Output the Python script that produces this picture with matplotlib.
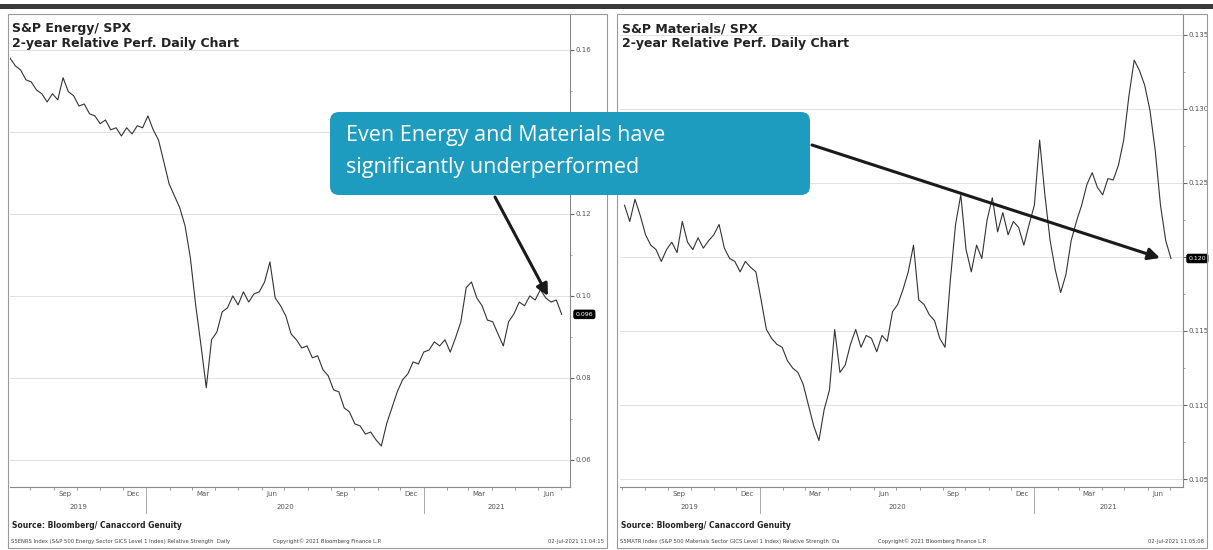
import numpy as np
import pandas as pd
import matplotlib
matplotlib.use("Agg")
import matplotlib.pyplot as plt
import matplotlib.dates as mdates
from matplotlib.patches import Rectangle, FancyBboxPatch, FancyArrowPatch
from matplotlib.ticker import FixedLocator

# weekly readings of the two relative-strength lines
energy_dates = pd.date_range("2019-07-05", periods=105, freq="W-FRI")
energy_vals = [
    0.1580, 0.1561, 0.1551, 0.1527, 0.1522, 0.1502, 0.1493, 0.1473, 0.1493, 0.1478,
    0.1532, 0.1498, 0.1488, 0.1463, 0.1468, 0.1444, 0.1439, 0.1420, 0.1429, 0.1405,
    0.1410, 0.1390, 0.1410, 0.1395, 0.1415, 0.1410, 0.1439, 0.1405, 0.1380, 0.1327,
    0.1273, 0.1244, 0.1215, 0.1171, 0.1093, 0.0978, 0.0880, 0.0776, 0.0893, 0.0912,
    0.0961, 0.0971, 0.1000, 0.0978, 0.1010, 0.0985, 0.1005, 0.1010, 0.1034, 0.1083,
    0.0995, 0.0976, 0.0951, 0.0907, 0.0893, 0.0873, 0.0878, 0.0849, 0.0854, 0.0820,
    0.0805, 0.0771, 0.0766, 0.0727, 0.0717, 0.0688, 0.0683, 0.0663, 0.0668, 0.0649,
    0.0634, 0.0688, 0.0727, 0.0766, 0.0795, 0.0810, 0.0839, 0.0834, 0.0863, 0.0868,
    0.0888, 0.0878, 0.0893, 0.0863, 0.0898, 0.0937, 0.1020, 0.1034, 0.0995, 0.0976,
    0.0941, 0.0937, 0.0907, 0.0878, 0.0937, 0.0956, 0.0985, 0.0976, 0.1000, 0.0990,
    0.1015, 0.0995, 0.0985, 0.0990, 0.0955,
]

materials_dates = pd.date_range("2019-07-05", periods=105, freq="W-FRI")
materials_vals = [
    0.1235, 0.1224, 0.1239, 0.1228, 0.1215, 0.1208, 0.1205, 0.1197, 0.1205, 0.1210,
    0.1203, 0.1224, 0.1210, 0.1205, 0.1213, 0.1206, 0.1211, 0.1215, 0.1222, 0.1206,
    0.1199, 0.1197, 0.1190, 0.1197, 0.1193, 0.1190, 0.1171, 0.1151, 0.1145, 0.1141,
    0.1139, 0.1130, 0.1125, 0.1122, 0.1114, 0.1100, 0.1086, 0.1076, 0.1097, 0.1110,
    0.1151, 0.1122, 0.1127, 0.1141, 0.1151, 0.1139, 0.1147, 0.1145, 0.1136, 0.1147,
    0.1143, 0.1163, 0.1168, 0.1178, 0.1190, 0.1208, 0.1171, 0.1168, 0.1161, 0.1157,
    0.1145, 0.1139, 0.1184, 0.1222, 0.1242, 0.1205, 0.1190, 0.1208, 0.1199, 0.1225,
    0.1240, 0.1217, 0.1230, 0.1215, 0.1224, 0.1220, 0.1208, 0.1222, 0.1235, 0.1279,
    0.1242, 0.1211, 0.1191, 0.1176, 0.1188, 0.1211, 0.1224, 0.1235, 0.1249, 0.1257,
    0.1247, 0.1242, 0.1253, 0.1252, 0.1262, 0.1279, 0.1309, 0.1333, 0.1326, 0.1316,
    0.1299, 0.1272, 0.1235, 0.1211, 0.1199,
]

energy_yticks = [0.06, 0.08, 0.10, 0.12, 0.14, 0.16]
materials_yticks = [0.105, 0.110, 0.115, 0.120, 0.125, 0.130, 0.135]
# tick labels that sit under the call-out box in the original
energy_hidden = [0.14]

callout_lines = ["Even Energy and Materials have", "significantly underperformed"]

W, H = 1213, 550

def fx(x):
    return x / W

def fy(y):
    return 1 - y / H

fig = plt.figure(figsize=(W / 100, H / 100), dpi=100)
fig.patch.set_facecolor("white")

# dark bar across the top
fig.add_artist(Rectangle((0, fy(9)), 1, 5 / H, transform=fig.transFigure,
                         color="#3a3a3a", lw=0))


def draw_panel(x0, x1, frame_l, frame_r, dates, vals, xlim, ylim, yticks, minor, fmt,
               tagfmt, hidden, title1, title2, note, stamp):
    # outer frame of the panel
    fig.add_artist(Rectangle((fx(frame_l), fy(548)), fx(frame_r - frame_l), 534 / H,
                             transform=fig.transFigure, fill=False,
                             ec="#9a9a9a", lw=0.8))
    ax = fig.add_axes([fx(x0), fy(487), fx(x1 - x0), (487 - 15) / H])
    ax.plot(dates, vals, color="#333333", lw=0.8)
    ax.set_xlim(pd.Timestamp(xlim[0]), pd.Timestamp(xlim[1]))
    ax.set_ylim(*ylim)

    for s in ["top", "left"]:
        ax.spines[s].set_visible(False)
    for s in ["right", "bottom"]:
        ax.spines[s].set_color("#8a8a8a")
        ax.spines[s].set_linewidth(0.8)

    # y axis on the right, Bloomberg style; the tag hides the label it sits on
    step = yticks[1] - yticks[0]
    labels = []
    for t in yticks:
        if abs(t - vals[-1]) < step * 0.2 or any(abs(t - h) < 1e-9 for h in hidden):
            labels.append("")
        else:
            labels.append(fmt % t)
    ax.yaxis.tick_right()
    ax.set_yticks(yticks)
    ax.set_yticklabels(labels)
    ax.yaxis.set_minor_locator(FixedLocator(minor))
    ax.tick_params(axis="y", which="major", length=3, color="#666666",
                   labelsize=5, labelcolor="#555555", pad=1)
    ax.tick_params(axis="y", which="minor", length=1.5, color="#999999")
    ax.grid(axis="y", which="major", color="#dddddd", lw=0.6)

    # month ticks and labels
    ax.xaxis.set_minor_locator(mdates.MonthLocator())
    ax.xaxis.set_major_locator(mdates.MonthLocator(bymonth=[3, 6, 9, 12], bymonthday=15))
    ax.xaxis.set_major_formatter(mdates.DateFormatter("%b"))
    ax.tick_params(axis="x", which="major", length=0, labelsize=5,
                   labelcolor="#555555", pad=3)
    ax.tick_params(axis="x", which="minor", length=2, color="#888888")

    # year labels and separators
    lo, hi = mdates.date2num(pd.Timestamp(xlim[0])), mdates.date2num(pd.Timestamp(xlim[1]))
    trans = ax.get_xaxis_transform()
    for yr in [2019, 2020, 2021]:
        a = max(lo, mdates.date2num(pd.Timestamp(f"{yr}-01-01")))
        b = min(hi, mdates.date2num(pd.Timestamp(f"{yr + 1}-01-01")))
        ax.text((a + b) / 2, -0.043, str(yr), transform=trans, ha="center",
                va="center", fontsize=5, color="#555555")
        if yr > 2019:
            sep = mdates.date2num(pd.Timestamp(f"{yr}-01-01"))
            ax.plot([sep, sep], [0, -0.055], transform=trans, color="#aaaaaa",
                    lw=0.7, clip_on=False)

    # current value tag
    ax.annotate(tagfmt % vals[-1], xy=(1, vals[-1]), xycoords=("axes fraction", "data"),
                xytext=(4, 0), textcoords="offset points", va="center", ha="left",
                fontsize=4.5, color="white",
                bbox=dict(boxstyle="round,pad=0.25", fc="black", ec="black"))

    ax.text(0.004, 0.985, title1 + "\n" + title2, transform=ax.transAxes,
            ha="left", va="top", fontsize=9, fontweight="bold", color="#222222",
            linespacing=1.15)

    fig.text(fx(frame_l + 4), fy(525), "Source: Bloomberg/ Canaccord Genuity",
             fontsize=5.5, fontweight="bold", color="#222222", va="center")
    fig.text(fx(frame_l + 3), fy(541), note, fontsize=3.8, color="#444444", va="center")
    fig.text(fx((frame_l + frame_r) / 2 + 20), fy(541),
             "Copyright\u00a9 2021 Bloomberg Finance L.P.", fontsize=3.8,
             color="#444444", va="center", ha="center")
    fig.text(fx(frame_r - 3), fy(541), stamp, fontsize=3.8, color="#444444",
             va="center", ha="right")
    return ax


ax1 = draw_panel(10, 570, 8, 607, energy_dates, energy_vals,
                 ("2019-07-05", "2021-07-13"), (0.0534, 0.1685), energy_yticks,
                 [0.07, 0.09, 0.11, 0.13, 0.15], "%.2f", "%.3f", energy_hidden,
                 "S&P Energy/ SPX", "2-year Relative Perf. Daily Chart",
                 "S5ENRS Index (S&P 500 Energy Sector GICS Level 1 Index) Relative Strength  Daily",
                 "02-Jul-2021 11:04:15")

ax2 = draw_panel(620, 1183, 617, 1207, materials_dates, materials_vals,
                 ("2019-06-29", "2021-07-18"), (0.10446, 0.13635), materials_yticks,
                 [0.1075, 0.1125, 0.1175, 0.1225, 0.1275, 0.1325], "%.3f", "%.3f", [],
                 "S&P Materials/ SPX", "2-year Relative Perf. Daily Chart",
                 "S5MATR Index (S&P 500 Materials Sector GICS Level 1 Index) Relative Strength  Da",
                 "02-Jul-2021 11:05:08")

# overlay in pixel units for the call-out and the arrows
ov = fig.add_axes([0, 0, 1, 1], zorder=10)
ov.set_xlim(0, W)
ov.set_ylim(H, 0)
ov.axis("off")
ov.patch.set_alpha(0)

ov.add_patch(FancyBboxPatch((330, 112), 480, 83,
                            boxstyle="round,pad=0,rounding_size=9",
                            fc="#1e9cc0", ec="none"))
for i, line in enumerate(callout_lines):
    ov.text(346, 136 + 32 * i, line, fontsize=15.5, color="white",
            family=["Open Sans", "DejaVu Sans"], va="center", ha="left")

for start, end in [((495, 197), (548, 296)), ((812, 145), (1160, 258))]:
    ov.add_patch(FancyArrowPatch(start, end,
                                 arrowstyle="-|>,head_length=7,head_width=3.5",
                                 color="#1a1a1a", lw=2.2, shrinkA=0, shrinkB=0))

fig.savefig("out.png", dpi=100)
